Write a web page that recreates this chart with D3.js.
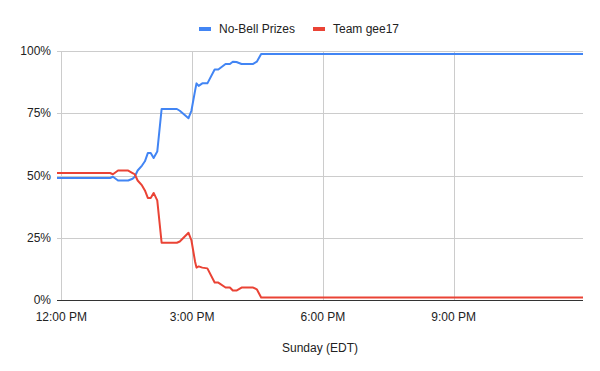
<!DOCTYPE html>
<html>
<head>
<meta charset="utf-8">
<script src="https://cdn.jsdelivr.net/npm/d3@7"></script>
<style>
  body { margin: 0; background: #fff; }
  svg { display: block; font-family: Arial, "Liberation Sans", sans-serif; }
</style>
</head>
<body>
<svg id="chart" width="600" height="371"></svg>
<script>
// minutes after 12:00 PM (Sunday)
const minutes = [-6, 67, 71, 78, 92, 98, 101, 105, 111, 115, 119, 123, 127, 132, 138, 159, 163, 175, 179, 184, 186, 189, 194, 201, 211, 216, 226, 232, 236, 241, 248, 264, 269, 275, 718]
const noBell = [49, 49, 49.5, 48, 48, 48.7, 49.5, 52, 54, 55.7, 59, 59, 57, 59.6, 76.7, 76.7, 76, 73, 76, 84, 87, 86, 87, 87, 92.6, 92.6, 94.8, 94.8, 95.7, 95.6, 94.8, 94.8, 95.7, 98.8, 98.8]
const gee17 = [51, 51, 50.5, 52, 52, 51, 50.5, 48, 46, 44, 41, 41, 43, 40, 23, 23, 23.5, 27, 24, 15.5, 13, 13.5, 13, 12.7, 7, 7, 5, 5, 3.8, 3.8, 5, 5, 4.3, 1, 1]
const seriesNames = ["No-Bell Prizes", "Team gee17"]
const seriesColors = ["#4285f4", "#ea4335"]
const yTicks = [0, 25, 50, 75, 100]
const xTickHours = [0, 3, 6, 9]

const noon = new Date(2021, 4, 16, 12, 0)
const toDate = m => new Date(noon.getTime() + m * 60000)

const svg = d3.select('#chart')
const plotL = 57, plotR = 583, plotT = 51, plotB = 300

const x = d3.scaleTime()
    .domain([toDate(minutes[0]), toDate(minutes[minutes.length - 1])])
    .range([plotL, plotR])
const y = d3.scaleLinear().domain([0, 100]).range([plotB, plotT])

// gridlines
svg.append('g').selectAll('line').data(yTicks.filter(d => d > 0)).join('line')
    .attr('x1', plotL).attr('x2', plotR)
    .attr('y1', d => Math.round(y(d)) + 0.5).attr('y2', d => Math.round(y(d)) + 0.5)
    .attr('stroke', '#cccccc').attr('stroke-width', 1)

const xTicks = xTickHours.map(h => toDate(h * 60))
svg.append('g').selectAll('line').data(xTicks).join('line')
    .attr('x1', d => Math.round(x(d)) + 0.5).attr('x2', d => Math.round(x(d)) + 0.5)
    .attr('y1', plotT).attr('y2', plotB)
    .attr('stroke', '#cccccc').attr('stroke-width', 1)

// y labels
svg.append('g').selectAll('text').data(yTicks).join('text')
    .attr('x', 51).attr('y', d => y(d))
    .attr('dy', '0.35em')
    .attr('text-anchor', 'end')
    .style('font-size', '12px')
    .attr('fill', '#222')
    .text(d => d + '%')

// x labels
const fmt = d3.timeFormat('%-I:%M %p')
svg.append('g').selectAll('text').data(xTicks).join('text')
    .attr('x', d => x(d)).attr('y', 317)
    .attr('dy', '0.35em')
    .attr('text-anchor', 'middle')
    .style('font-size', '12px')
    .attr('fill', '#222')
    .text(d => fmt(d))

svg.append('text')
    .attr('x', (plotL + plotR) / 2).attr('y', 348)
    .attr('dy', '0.35em')
    .attr('text-anchor', 'middle')
    .style('font-size', '12px')
    .attr('fill', '#222')
    .text('Sunday (EDT)')

// lines
const line = vals => d3.line()
    .x((d, i) => x(toDate(minutes[i])))
    .y(d => y(d))(vals)

;[noBell, gee17].forEach((vals, i) => {
    svg.append('path')
        .attr('d', line(vals))
        .attr('fill', 'none')
        .attr('stroke', seriesColors[i])
        .attr('stroke-width', 2)
        .attr('stroke-linejoin', 'round')
})

// baseline
svg.append('line')
    .attr('x1', plotL).attr('x2', plotR)
    .attr('y1', plotB + 0.5).attr('y2', plotB + 0.5)
    .attr('stroke', '#333').attr('stroke-width', 1)

// legend
const legend = svg.append('g')
const legendX = [199, 313]
seriesNames.forEach((name, i) => {
    legend.append('rect')
        .attr('x', legendX[i]).attr('y', 27)
        .attr('width', 12).attr('height', 4)
        .attr('fill', seriesColors[i])
    legend.append('text')
        .attr('x', legendX[i] + 20).attr('y', 29)
        .attr('dy', '0.35em')
        .style('font-size', '12px')
        .attr('fill', '#222')
        .text(name)
})
</script>
</body>
</html>
